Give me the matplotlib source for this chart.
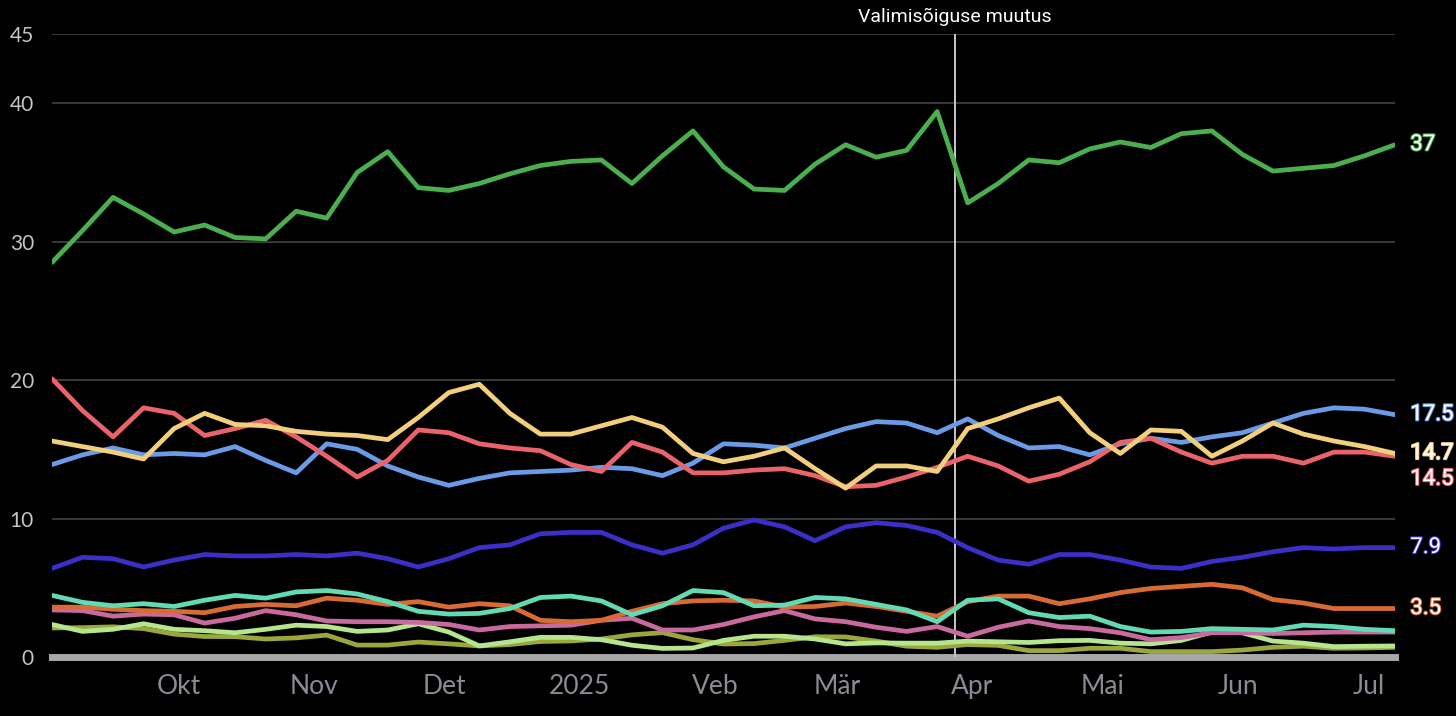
import numpy as np
import pandas as pd
import matplotlib
matplotlib.use("Agg")
from matplotlib import pyplot as plt
import matplotlib.dates as mdates
import matplotlib.patheffects as pe

# weekly readings, 2 Sep 2024 .. 7 Jul 2025
dates = pd.date_range("2024-09-02", periods=45, freq="7D")

green = [28.5, 30.8, 33.2, 32.0, 30.7, 31.2, 30.3, 30.2, 32.2, 31.7,
         35.0, 36.5, 33.9, 33.7, 34.2, 34.9, 35.5, 35.8, 35.9, 34.2,
         36.2, 38.0, 35.4, 33.8, 33.7, 35.6, 37.0, 36.1, 36.6, 39.4,
         32.8, 34.2, 35.9, 35.7, 36.7, 37.2, 36.8, 37.8, 38.0, 36.3,
         35.1, 35.3, 35.5, 36.2, 37.0]
blue = [13.9, 14.6, 15.1, 14.6, 14.7, 14.6, 15.2, 14.2, 13.3, 15.4,
        15.0, 13.8, 13.0, 12.4, 12.9, 13.3, 13.4, 13.5, 13.7, 13.6,
        13.1, 14.0, 15.4, 15.3, 15.1, 15.8, 16.5, 17.0, 16.9, 16.2,
        17.2, 16.0, 15.1, 15.2, 14.6, 15.4, 15.8, 15.5, 15.9, 16.2,
        16.9, 17.6, 18.0, 17.9, 17.5]
yellow = [15.6, 15.2, 14.8, 14.3, 16.5, 17.6, 16.8, 16.7, 16.3, 16.1,
          16.0, 15.7, 17.3, 19.1, 19.7, 17.6, 16.1, 16.1, 16.7, 17.3,
          16.6, 14.7, 14.1, 14.5, 15.1, 13.6, 12.2, 13.8, 13.8, 13.4,
          16.5, 17.2, 18.0, 18.7, 16.2, 14.7, 16.4, 16.3, 14.5, 15.6,
          16.9, 16.1, 15.6, 15.2, 14.7]
red = [20.1, 17.8, 15.9, 18.0, 17.6, 16.0, 16.5, 17.1, 15.9, 14.5,
       13.0, 14.2, 16.4, 16.2, 15.4, 15.1, 14.9, 13.9, 13.4, 15.5,
       14.8, 13.3, 13.3, 13.5, 13.6, 13.1, 12.3, 12.4, 13.0, 13.7,
       14.5, 13.8, 12.7, 13.2, 14.1, 15.5, 15.8, 14.8, 14.0, 14.5,
       14.5, 14.0, 14.8, 14.8, 14.5]
indigo = [6.4, 7.2, 7.1, 6.5, 7.0, 7.4, 7.3, 7.3, 7.4, 7.3,
          7.5, 7.1, 6.5, 7.1, 7.9, 8.1, 8.9, 9.0, 9.0, 8.1,
          7.5, 8.1, 9.3, 9.9, 9.4, 8.4, 9.4, 9.7, 9.5, 9.0,
          7.9, 7.0, 6.7, 7.4, 7.4, 7.0, 6.5, 6.4, 6.9, 7.2,
          7.6, 7.9, 7.8, 7.9, 7.9]
orange = [3.6, 3.6, 3.45, 3.35, 3.3, 3.2, 3.65, 3.8, 3.7, 4.25,
          4.1, 3.8, 4.0, 3.6, 3.85, 3.7, 2.65, 2.55, 2.65, 3.3,
          3.85, 4.05, 4.1, 4.05, 3.6, 3.65, 3.9, 3.65, 3.3, 2.95,
          4.0, 4.4, 4.4, 3.85, 4.2, 4.65, 4.95, 5.1, 5.25, 5.0,
          4.15, 3.9, 3.5, 3.5, 3.5]
teal = [4.45, 3.95, 3.7, 3.85, 3.65, 4.1, 4.45, 4.25, 4.7, 4.8,
        4.55, 4.0, 3.3, 3.1, 3.15, 3.5, 4.3, 4.4, 4.05, 3.05,
        3.7, 4.8, 4.65, 3.7, 3.75, 4.3, 4.2, 3.8, 3.4, 2.55,
        4.1, 4.2, 3.2, 2.85, 2.95, 2.2, 1.8, 1.85, 2.05, 2.0,
        1.95, 2.3, 2.2, 2.0, 1.9]
pink = [3.4, 3.35, 2.95, 3.1, 3.05, 2.45, 2.8, 3.35, 3.05, 2.6,
        2.55, 2.55, 2.5, 2.35, 1.95, 2.2, 2.25, 2.3, 2.65, 2.8,
        1.95, 1.95, 2.35, 2.9, 3.35, 2.75, 2.55, 2.15, 1.85, 2.2,
        1.5, 2.15, 2.6, 2.2, 2.05, 1.75, 1.25, 1.4, 1.75, 1.75,
        1.7, 1.75, 1.8, 1.8, 1.8]
olive = [2.1, 2.12, 2.18, 2.05, 1.65, 1.48, 1.47, 1.3, 1.38, 1.58,
         0.86, 0.86, 1.08, 0.95, 0.8, 0.9, 1.12, 1.16, 1.3, 1.6,
         1.76, 1.25, 0.94, 0.97, 1.2, 1.46, 1.45, 1.15, 0.78, 0.7,
         0.9, 0.84, 0.46, 0.46, 0.63, 0.63, 0.39, 0.39, 0.39, 0.5,
         0.7, 0.78, 0.63, 0.65, 0.7]
lightgreen = [2.35, 1.85, 2.0, 2.4, 2.0, 1.9, 1.75, 2.0, 2.3, 2.2,
              1.85, 1.95, 2.4, 1.8, 0.8, 1.1, 1.42, 1.42, 1.25, 0.85,
              0.62, 0.65, 1.2, 1.5, 1.5, 1.3, 0.95, 1.02, 1.0, 1.0,
              1.15, 1.1, 1.05, 1.18, 1.2, 1.0, 0.95, 1.2, 1.8, 1.75,
              1.15, 1.0, 0.75, 0.78, 0.8]

month_ticks = ["2024-10-01", "2024-11-01", "2024-12-01", "2025-01-01", "2025-02-01",
               "2025-03-01", "2025-04-01", "2025-05-01", "2025-06-01", "2025-07-01"]
month_labels = ["Okt", "Nov", "Det", "2025", "Veb", "Mär", "Apr", "Mai", "Jun", "Jul"]
event_date = "2025-03-28"
event_label = "Valimisõiguse muutus"

# series drawn bottom first; (values, colour, show end label)
series = [
    (olive, "#9ba73b", False),
    (lightgreen, "#b5e68e", False),
    (pink, "#c86a9e", False),
    (orange, "#d86b34", True),
    (teal, "#62dbb5", False),
    (indigo, "#3a30c6", True),
    (blue, "#6b9be6", True),
    (red, "#e8646a", True),
    (yellow, "#f2cf7b", True),
    (green, "#4caf4f", True),
]
label_shift = {"#e8646a": -23}  # pixels, keeps 14.5 off 14.7

fig = plt.figure(figsize=(14.56, 7.16), dpi=100, facecolor="black")
ax = fig.add_axes([52 / 1456, 1 - 657 / 716, 1343 / 1456, 623 / 716])
ax.set_facecolor("black")

for vals, col, lab in series:
    ax.plot(dates, vals, color=col, lw=3.4, solid_joinstyle="round",
            solid_capstyle="round", zorder=3)
    if lab:
        ax.annotate(f"{vals[-1]:g}", xy=(1.0, vals[-1]), xycoords=("axes fraction", "data"),
                    xytext=(11, label_shift.get(col, 0) * 0.72), textcoords="offset points",
                    va="center", ha="left", color="white", fontsize=16,
                    family=["Roboto", "DejaVu Sans"],
                    path_effects=[pe.withStroke(linewidth=1.6, foreground=col)])

ax.set_xlim(pd.Timestamp("2024-09-02"), pd.Timestamp("2025-07-07"))
ax.set_ylim(0, 45)

yt = [0, 10, 20, 30, 40, 45]
ax.set_yticks(yt)
ax.set_yticklabels([str(v) for v in yt], color="#c4c4c8", fontsize=15, family="Lato")
for v in yt[1:]:
    ax.axhline(v, color="#3a3a3c", lw=1.4, zorder=1)
ax.axhline(0, color="#a8a8a8", lw=5, zorder=2, clip_on=False)

ax.set_xticks(pd.to_datetime(month_ticks))
ax.set_xticklabels(month_labels, color="#8b8b96", fontsize=19, family="Lato")
ax.tick_params(axis="both", length=0)
ax.tick_params(axis="x", pad=12)
ax.tick_params(axis="y", pad=13)

ev = pd.Timestamp(event_date)
ax.axvline(ev, color="#c8c8cc", lw=1.4, zorder=2)
ax.annotate(event_label, xy=(ev, 45), xytext=(0, 6), textcoords="offset points",
            ha="center", va="bottom", color="white", fontsize=14,
            family=["Roboto", "DejaVu Sans"], annotation_clip=False)

for s in ax.spines.values():
    s.set_visible(False)

fig.savefig("out.png", dpi=100, facecolor="black")
